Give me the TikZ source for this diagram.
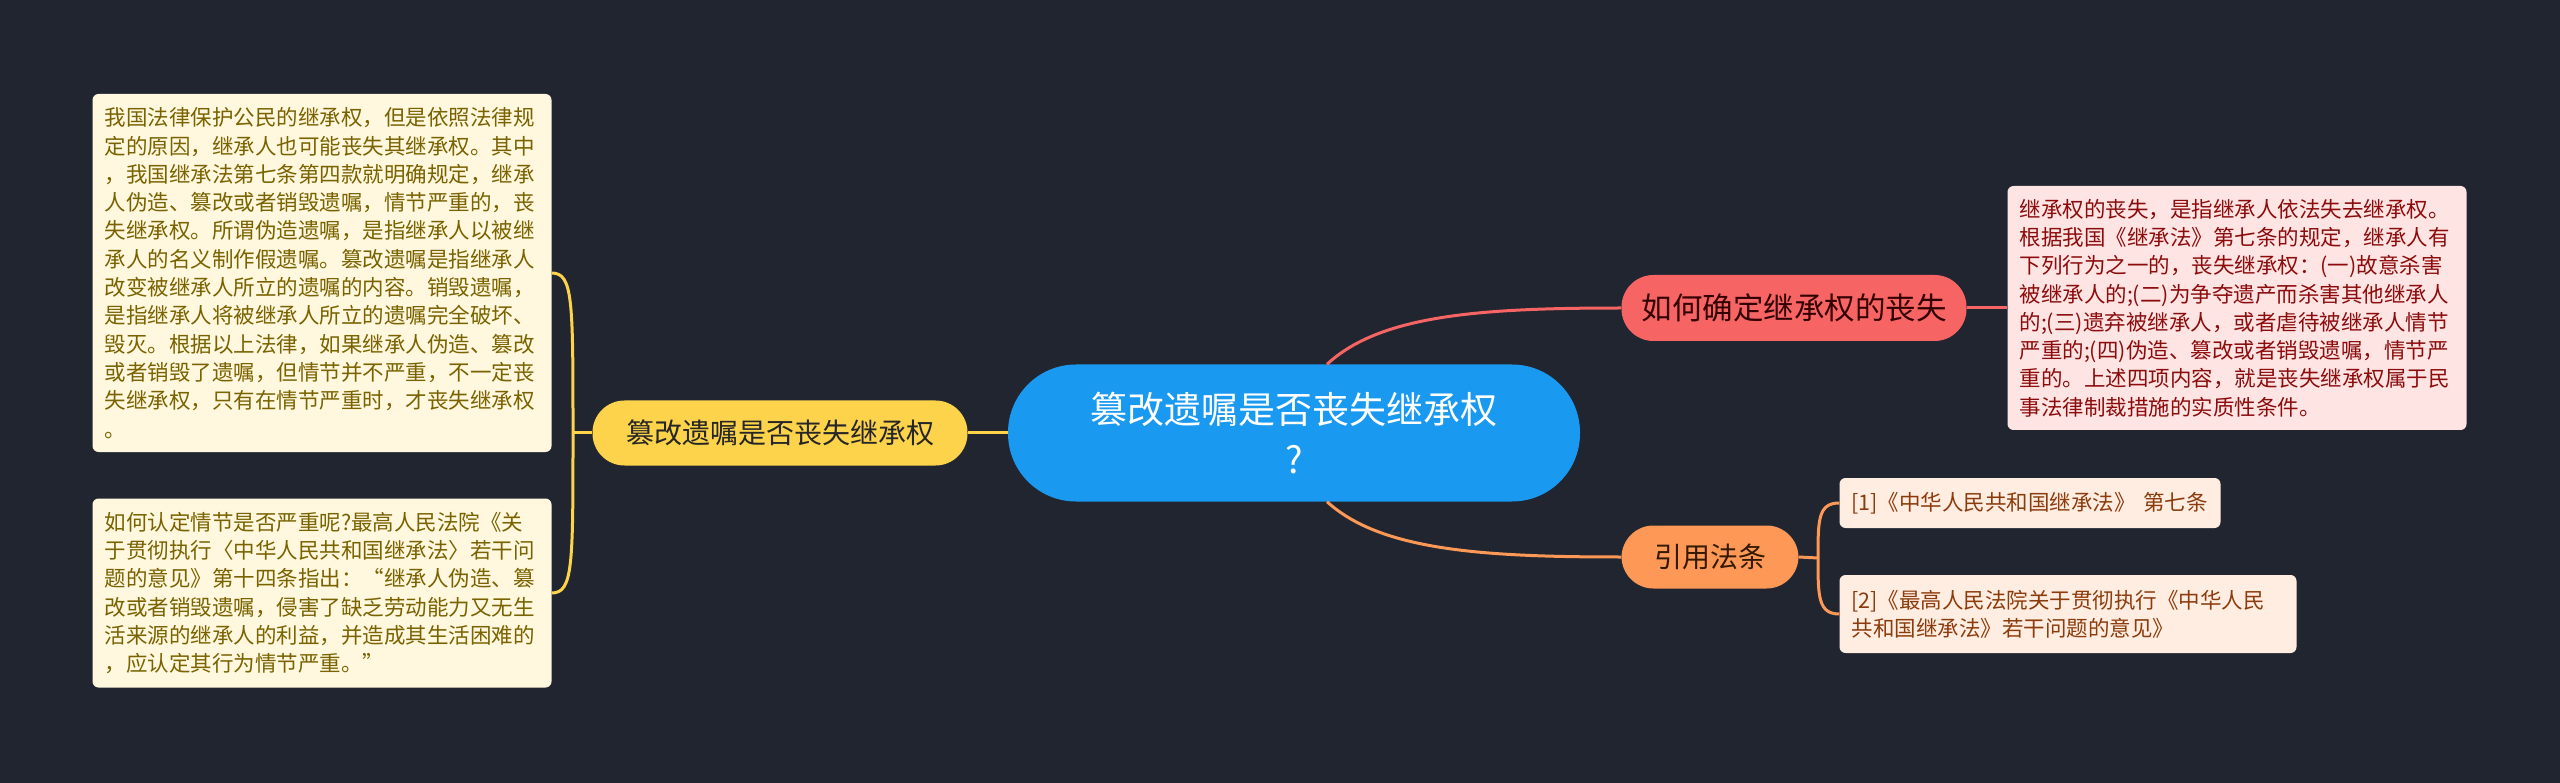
\documentclass[tikz,border=0pt]{standalone}
\usepackage{fontspec}
\setmainfont{Noto Sans CJK SC}
\usepackage{tikz}
\usetikzlibrary{calc,positioning}

\definecolor{bgnavy}{RGB}{33,37,48}
\definecolor{rootblue}{RGB}{26,153,240}
\definecolor{willyellow}{RGB}{252,211,74}
\definecolor{lostred}{RGB}{247,100,100}
\definecolor{laworange}{RGB}{253,152,86}
\definecolor{creamfill}{RGB}{255,248,222}
\definecolor{creamtext}{RGB}{122,98,0}
\definecolor{pinkfill}{RGB}{255,228,228}
\definecolor{pinktext}{RGB}{140,12,12}
\definecolor{peachfill}{RGB}{255,237,225}
\definecolor{peachtext}{RGB}{140,60,12}

\begin{document}
\begin{tikzpicture}[x=1pt,y=-1pt]
    \tikzstyle{root}=[rectangle,fill=rootblue,text=white,inner sep=0,align=center,
      minimum width=572pt,minimum height=137pt,rounded corners=68pt,
      font=\fontsize{37}{50}\selectfont]
    \tikzstyle{branch}=[rectangle,inner sep=0,minimum height=65pt,rounded corners=32pt,
      font=\fontsize{28}{34}\selectfont]
    \tikzstyle{note}=[rectangle,rounded corners=6pt,align=left,inner xsep=12pt,inner ysep=0,
      font=\fontsize{21.5}{28.3}\selectfont]
    \tikzstyle{link}=[line width=3pt]
    \fill[bgnavy] (0,0) rectangle (2560,783);
    \useasboundingbox (0,0) rectangle (2560,783);

    \node[root] (root) at (1294,433) {篡改遗嘱是否丧失继承权\\?};
    \node[branch,fill=willyellow,text={black!85},minimum width=375pt] (will) at (780,433) {篡改遗嘱是否丧失继承权};
    \node[branch,fill=lostred,text={black!80!red},minimum width=345pt,minimum height=66pt,
      font=\fontsize{30.5}{36}\selectfont] (lost) at (1794,308) {如何确定继承权的丧失};
    \node[branch,fill=laworange,text={black!80!orange},minimum width=177pt,minimum height=63pt] (law) at (1710,557) {引用法条};

    \node[note,fill=creamfill,text=creamtext,text width=435pt,minimum height=358pt] (willA) at (322,273) {%
      我国法律保护公民的继承权，但是依照法律规\\
      定的原因，继承人也可能丧失其继承权。其中\\
      ，我国继承法第七条第四款就明确规定，继承\\
      人伪造、篡改或者销毁遗嘱，情节严重的，丧\\
      失继承权。所谓伪造遗嘱，是指继承人以被继\\
      承人的名义制作假遗嘱。篡改遗嘱是指继承人\\
      改变被继承人所立的遗嘱的内容。销毁遗嘱，\\
      是指继承人将被继承人所立的遗嘱完全破坏、\\
      毁灭。根据以上法律，如果继承人伪造、篡改\\
      或者销毁了遗嘱，但情节并不严重，不一定丧\\
      失继承权，只有在情节严重时，才丧失继承权\\
      。};
    \node[note,fill=creamfill,text=creamtext,text width=435pt,minimum height=189pt] (willB) at (322,593) {%
      如何认定情节是否严重呢?最高人民法院《关\\
      于贯彻执行〈中华人民共和国继承法〉若干问\\
      题的意见》第十四条指出：“继承人伪造、篡\\
      改或者销毁遗嘱，侵害了缺乏劳动能力又无生\\
      活来源的继承人的利益，并造成其生活困难的\\
      ，应认定其行为情节严重。”};
    \node[note,fill=pinkfill,text=pinktext,text width=435pt,minimum height=244pt] (lostA) at (2237,308) {%
      继承权的丧失，是指继承人依法失去继承权。\\
      根据我国《继承法》第七条的规定，继承人有\\
      下列行为之一的，丧失继承权：(一)故意杀害\\
      被继承人的;(二)为争夺遗产而杀害其他继承人\\
      的;(三)遗弃被继承人，或者虐待被继承人情节\\
      严重的;(四)伪造、篡改或者销毁遗嘱，情节严\\
      重的。上述四项内容，就是丧失继承权属于民\\
      事法律制裁措施的实质性条件。};
    \node[note,fill=peachfill,text=peachtext,text width=357pt,minimum height=50pt] (lawA) at (2030,503) {[1]《中华人民共和国继承法》 第七条};
    \node[note,fill=peachfill,text=peachtext,text width=433pt,minimum height=78pt] (lawB) at (2068,614) {%
      [2]《最高人民法院关于贯彻执行《中华人民\\
      共和国继承法》若干问题的意见》};

    \coordinate (wj) at (573,433);
    \coordinate (lj) at (1818,558);

    \draw[link,willyellow] (root.west) -- (will.east);
    \draw[link,willyellow] (will.west) -- (wj);
    \draw[link,willyellow] (wj) .. controls (573,300) and (573,273) .. (willA.east);
    \draw[link,willyellow] (wj) .. controls (573,566) and (573,593) .. (willB.east);
    \draw[link,lostred] ($(root.north)+(33,0)$) .. controls (1380,315) and (1480,308) .. (lost.west);
    \draw[link,lostred] (lost.east) -- (lostA.west);
    \draw[link,laworange] ($(root.south)+(33,0)$) .. controls (1380,550) and (1480,557) .. (law.west);
    \draw[link,laworange] (law.east) -- (lj);
    \draw[link,laworange] (lj) .. controls (1818,520) and (1818,503) .. (lawA.west);
    \draw[link,laworange] (lj) .. controls (1818,596) and (1818,614) .. (lawB.west);
\end{tikzpicture}
\end{document}
